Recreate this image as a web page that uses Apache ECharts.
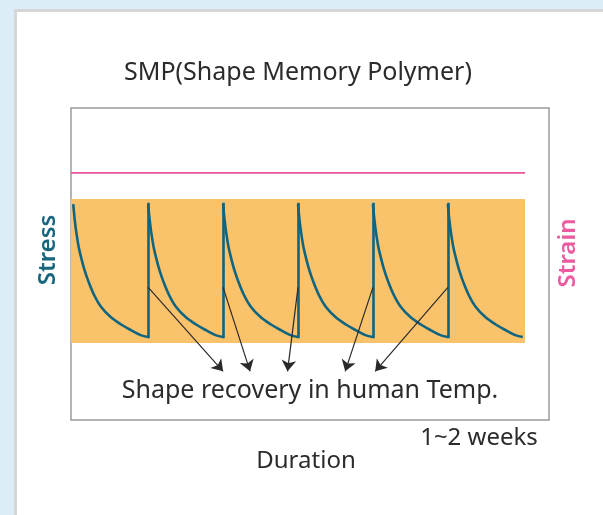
<!DOCTYPE html>
<html>
<head>
<meta charset="utf-8">
<script src="https://cdn.jsdelivr.net/npm/echarts@6/dist/echarts.min.js"></script>
<style>
  html, body { margin: 0; padding: 0; }
  body { width: 603px; height: 515px; background: #dcedf7; position: relative; overflow: hidden; }
  #card { position: absolute; left: 14px; top: 9px; right: -10px; bottom: -10px; background: #fff;
          border-left: 3px solid #d6d6d6; border-top: 3px solid #d6d6d6; }
  #chart { position: absolute; left: 0; top: 0; width: 603px; height: 515px; }
</style>
</head>
<body>
<div id="card"></div>
<div id="chart"></div>
<script>
// one stress-relaxation cycle: position within the cycle and stress level (0-100 scale)
const cycleFrac = [0, 0.02, 0.04, 0.07, 0.1, 0.15, 0.2, 0.28, 0.37, 0.5, 0.64, 0.77, 0.9, 1.0];
const cycleStress = [69.2, 64.1, 60.3, 55.8, 52.6, 48.1, 44.6, 40.0, 36.3, 33.0, 30.6, 28.8, 27.2, 26.6];
const cycleStarts = [0, 1, 2, 3, 4, 5];
const reloadAt = [1, 2, 3, 4, 5];

const strainLevel = 79.2;
const bandRange = [24.7, 70.8];
const bandEnd = 6.03;

// arrows: from the reload point on each jump to the caption
const arrowFrom = [[1, 42.5], [2, 42.5], [3, 42.5], [4, 42.5], [5, 42.5]];
const arrowTo = [[2.0, 15.6], [2.36, 15.6], [2.86, 15.6], [3.63, 15.6], [4.03, 15.6]];

const titleText = 'SMP(Shape Memory Polymer)';
const captionText = 'Shape recovery in human Temp.';
const leftName = 'Stress';
const rightName = 'Strain';
const xName = 'Duration';
const xEndLabel = '1~2 weeks';

// each cycle drawn as its own smooth piece (null breaks the line between them)
const stressData = [];
cycleStarts.forEach(k => {
  cycleFrac.forEach((f, i) => stressData.push([k + f, cycleStress[i]]));
  stressData.push([k + 1, null]);
});
const lastStress = cycleStress[cycleStress.length - 1];
const jumps = reloadAt.map(k => ({ coords: [[k, lastStress], [k, cycleStress[0]]] }));

const FONT = '"Noto Sans", "Open Sans", sans-serif';
const chart = echarts.init(document.getElementById('chart'), null, { renderer: 'canvas' });

chart.setOption({
  backgroundColor: 'transparent',
  animation: false,
  grid: {
    left: 71, right: 54, top: 108, bottom: 95,
    show: true, borderColor: '#9c9c9c', borderWidth: 1.5, backgroundColor: 'transparent'
  },
  xAxis: {
    type: 'value', min: -0.03, max: 6.35,
    axisLine: { show: false }, axisTick: { show: false }, axisLabel: { show: false }, splitLine: { show: false }
  },
  yAxis: {
    type: 'value', min: 0, max: 100,
    axisLine: { show: false }, axisTick: { show: false }, axisLabel: { show: false }, splitLine: { show: false }
  },
  series: [
    {
      name: 'Stress',
      type: 'line',
      data: stressData,
      smooth: 0.35,
      connectNulls: false,
      showSymbol: false,
      lineStyle: { color: '#0f6580', width: 2.6, join: 'round' },
      z: 3,
      markArea: {
        silent: true,
        itemStyle: { color: '#fac36b' },
        data: [[{ xAxis: -0.03, yAxis: bandRange[0] }, { xAxis: bandEnd, yAxis: bandRange[1] }]]
      }
    },
    {
      name: 'Stress jumps',
      type: 'lines',
      coordinateSystem: 'cartesian2d',
      data: jumps,
      symbol: 'none',
      lineStyle: { color: '#0f6580', width: 2.6, opacity: 1, cap: 'square' },
      z: 3
    },
    {
      name: 'Strain',
      type: 'line',
      data: [[-0.03, strainLevel], [bandEnd, strainLevel]],
      showSymbol: false,
      lineStyle: { color: '#e8559a', width: 1.8 },
      z: 3
    },
    {
      type: 'lines',
      coordinateSystem: 'cartesian2d',
      data: arrowFrom.map((p, i) => ({ coords: [p, arrowTo[i]] })),
      symbol: ['none', 'arrow'],
      symbolSize: [0, 11],
      lineStyle: { color: '#2a2a2a', width: 1.2, opacity: 1, curveness: 0 },
      z: 4
    }
  ],
  graphic: [
    { type: 'text', x: 298, y: 73, style: { text: titleText, font: '25px ' + FONT, fill: '#2b2b2b', textAlign: 'center', textVerticalAlign: 'middle' } },
    { type: 'text', x: 310, y: 391, style: { text: captionText, font: '25px ' + FONT, fill: '#2b2b2b', textAlign: 'center', textVerticalAlign: 'middle' } },
    { type: 'text', x: 479, y: 438, style: { text: xEndLabel, font: '24px ' + FONT, fill: '#2b2b2b', textAlign: 'center', textVerticalAlign: 'middle' } },
    { type: 'text', x: 306, y: 461, style: { text: xName, font: '24px ' + FONT, fill: '#2b2b2b', textAlign: 'center', textVerticalAlign: 'middle' } },
    { type: 'text', x: 48, y: 250, rotation: Math.PI / 2, style: { text: leftName, font: '600 24px ' + FONT, fill: '#17667e', textAlign: 'center', textVerticalAlign: 'middle' } },
    { type: 'text', x: 568, y: 253, rotation: Math.PI / 2, style: { text: rightName, font: '600 24px ' + FONT, fill: '#ec5ba0', textAlign: 'center', textVerticalAlign: 'middle' } }
  ]
});
</script>
</body>
</html>
